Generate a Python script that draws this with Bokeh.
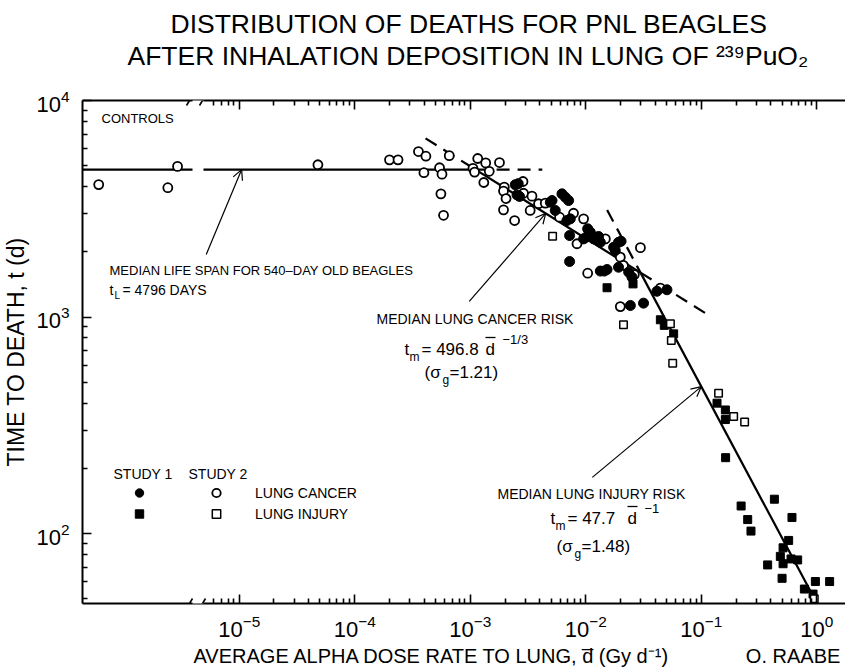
from bokeh.plotting import figure
from bokeh.models import (Range1d, LinearScale, LogAxis, FixedTicker, Label, Arrow,
                          OpenHead, BoxAnnotation, Legend, LegendItem, Title)
from bokeh.embed import file_html
from bokeh.resources import INLINE

FONT = "Liberation Sans"

# ---------------- data ----------------
# control dogs (zero dose) - plotting positions inside the controls panel
ctrl_pos = [0.15, 0.79, 0.88]
ctrl_t = [4090, 3955, 4960]

# Study 2, lung cancer (open circles)
s2_cancer_d = [4.8e-5, 2.0e-4, 2.37e-4, 3.56e-4, 4.13e-4, 3.97e-4, 5.42e-4, 5.69e-4, 5.57e-4,
               5.87e-4, 6.58e-4, 1.16e-3, 1.36e-3, 1.79e-3, 1.055e-3, 1.09e-3, 1.46e-3, 1.31e-3,
               1.97e-3, 1.94e-3, 2.04e-3, 1.94e-3, 2.42e-3, 2.86e-3, 2.89e-3, 3.42e-3, 3.30e-3,
               3.90e-3, 4.46e-3, 5.93e-3, 7.83e-3, 9.57e-3, 8.39e-3, 1.476e-2, 2.97e-2, 1.99e-2,
               2.12e-2, 1.038e-2, 2.63e-2, 4.42e-2, 1.99e-2]
s2_cancer_t = [5050, 5320, 5320, 5810, 5530, 4640, 4890, 4570, 3705, 2950, 5560, 5395, 5150,
               5170, 4860, 4670, 4710, 4180, 3980, 3815, 3525, 3125, 2790, 4225, 3730, 3615,
               3105, 3335, 3355, 2890, 3015, 2840, 2180, 2295, 2090, 1890, 1730, 1593, 1570,
               1360, 1117]

# Study 1, lung cancer (filled circles)
s1_cancer_d = [2.45e-3, 2.6e-3, 2.54e-3, 2.67e-3, 4.93e-3, 5.1e-3, 5.44e-3, 6.22e-3, 6.65e-3,
               7.10e-3, 6.87e-3, 7.34e-3, 7.24e-3, 1.038e-2, 1.094e-2, 9.57e-3, 1.009e-2,
               1.17e-2, 1.29e-2, 1.336e-2, 7.24e-3, 1.742e-2, 1.80e-2, 1.92e-2, 2.02e-2,
               1.92e-2, 1.336e-2, 1.446e-2, 1.527e-2, 2.35e-2, 2.51e-2, 4.13e-2, 5.04e-2,
               3.16e-2, 2.43e-2]
s1_cancer_t = [4080, 4130, 3665, 3605, 3390, 3450, 3105, 3705, 3575, 3450, 2790, 2840, 2378,
               2555, 2465, 2295, 2337, 2295, 2355, 2213, 1804, 2100, 2027, 2213, 2238, 1698,
               1630, 1630, 1657, 1611, 1528, 1315, 1336, 1159, 1130]

# Study 1, lung injury (filled squares)
s1_injury_d = [2.563e-2, 1.527e-2, 4.42e-2, 4.78e-2, 5.76e-2, 0.1367, 0.1615, 0.1615, 0.1623,
               0.221, 0.429, 0.252, 0.269, 0.609, 0.570, 0.510, 0.483, 0.510, 0.598, 0.682,
               0.375, 0.500, 0.780, 0.971, 1.29, 0.927]
s1_injury_t = [1422, 1365, 971, 915, 836, 400, 372, 336, 224, 134, 144, 116, 102.6, 118.6,
               92.9, 85.9, 78.4, 72.5, 76.3, 75.5, 71.6, 62.1, 55.4, 60.0, 60.0, 52.5]

# Study 2, lung injury (open squares)
s2_injury_d = [5.16e-3, 2.12e-2, 5.4e-2, 5.5e-2, 5.65e-2, 0.141, 0.1905, 0.237, 0.95]
s2_injury_t = [2360, 921, 931, 778, 612, 445, 347, 327, 49.9]

# fitted models
LIFE_SPAN = 4796.0          # t_L, days
CANCER_A, CANCER_B = 496.8, -1.0 / 3.0
INJURY_A, INJURY_B = 47.7, -1.0
CANCER_DASH_FROM = 4.1e-4
CANCER_DASH_TO = 0.108
HORIZ_DASH_TO = 4.2e-3
INJURY_DASH_FROM = 0.0153

x_major = [1e-5, 1e-4, 1e-3, 1e-2, 1e-1, 1e0]
y_major = [1e2, 1e3, 1e4]
X_LO, X_HI = 4.4e-7, 1.77
Y_LO, Y_HI = 47.5, 1e4
x_minor = [k * 10.0 ** e for e in range(-6, 1) for k in range(2, 10) if 6e-6 <= k * 10.0 ** e <= X_HI]
y_minor = [k * 10.0 ** e for e in range(1, 4) for k in range(2, 10) if Y_LO <= k * 10.0 ** e <= Y_HI]

TITLE_1 = "DISTRIBUTION OF DEATHS FOR PNL BEAGLES"
TITLE_2 = "AFTER INHALATION DEPOSITION IN LUNG OF \u00b2\u00b3\u2079PuO\u2082"
X_LABEL = "AVERAGE ALPHA DOSE RATE TO LUNG, d\u0305 (Gy d\u207b\u00b9)"
AUTHOR = "O. RAABE"
Y_LABEL = "TIME TO DEATH, t (d)"

# ---------------- figure ----------------
W, H = 845, 672
FL, FT, FB = 82, 100, 603    # frame left / top / bottom in page pixels
FW = W - FL                  # frame width
CTRL_W = 108                 # width of the zero-dose (controls) panel

p = figure(width=W, height=H, x_axis_type="log", y_axis_type="log",
           x_range=Range1d(X_LO, X_HI), y_range=Range1d(Y_LO, Y_HI),
           output_backend="svg", toolbar_location=None, title_location=None,
           min_border_left=FL, min_border_right=0, min_border_top=FT,
           min_border_bottom=H - FB)
p.extra_x_ranges = {"ctrl": Range1d(0, FW / CTRL_W)}
p.extra_x_scales = {"ctrl": LinearScale()}
p.grid.visible = False
p.outline_line_color = None
p.background_fill_color = "white"
p.border_fill_color = "white"

def style_axis(ax):
    ax.major_tick_in = 9
    ax.major_tick_out = 0
    ax.minor_tick_in = 5
    ax.minor_tick_out = 0
    ax.axis_line_width = 2
    ax.major_tick_line_width = 1.6
    ax.minor_tick_line_width = 1.6
    ax.axis_line_color = "black"
    ax.major_tick_line_color = "black"
    ax.minor_tick_line_color = "black"
    ax.major_label_text_font = FONT
    ax.major_label_text_color = "black"

xa = p.xaxis[0]
xa.ticker = FixedTicker(ticks=x_major, minor_ticks=x_minor)
style_axis(xa)
xa.major_label_text_font_size = "22px"
xa.major_label_standoff = 11

ya = p.yaxis[0]
ya.ticker = FixedTicker(ticks=y_major, minor_ticks=y_minor)
style_axis(ya)
ya.major_label_text_font_size = "22px"
ya.major_label_standoff = 13
ya.axis_label = Y_LABEL
ya.axis_label_text_font = FONT
ya.axis_label_text_font_style = "normal"
ya.axis_label_text_font_size = "23px"
ya.axis_label_text_color = "black"
ya.axis_label_standoff = 4

top = LogAxis(ticker=FixedTicker(ticks=x_major, minor_ticks=x_minor))
style_axis(top)
top.major_label_text_color = None
top.major_label_text_font_size = "1px"
top.major_label_standoff = 0
p.add_layout(top, "above")

# blank spacer panel between the top axis and the title lines
p.add_layout(Title(text="\u00a0", text_font=FONT, text_font_size="10px", text_color="white",
                   standoff=17), "above")
p.add_layout(Title(text=TITLE_2, align="left", offset=45, text_font=FONT, text_font_size="26.5px",
                   text_font_style="normal", text_color="black", standoff=0), "above")
p.add_layout(Title(text=TITLE_1, align="left", offset=88, text_font=FONT, text_font_size="26.5px",
                   text_font_style="normal", text_color="black", standoff=0), "above")
p.add_layout(Title(text=X_LABEL + "\u00a0" * 14 + AUTHOR, align="left", offset=111,
                   text_font=FONT, text_font_size="20px", text_font_style="normal",
                   text_color="black", standoff=6), "below")

# ---------------- model lines ----------------
def cancer(d):
    return CANCER_A * d ** CANCER_B

def injury(d):
    return INJURY_A * d ** INJURY_B

d_c = (CANCER_A / LIFE_SPAN) ** (1.0 / -CANCER_B)              # life span meets cancer line
d_ci = (INJURY_A / CANCER_A) ** (1.0 / (CANCER_B - INJURY_B))  # cancer meets injury line
d_end = (INJURY_A / Y_LO) ** (1.0 / -INJURY_B)

LW = 2.2
DASH = "13 8"
p.line([X_LO, d_c], [LIFE_SPAN, LIFE_SPAN], line_color="black", line_width=LW)
p.line([d_c, HORIZ_DASH_TO], [LIFE_SPAN, LIFE_SPAN], line_color="black", line_width=LW, line_dash=DASH)
p.line([CANCER_DASH_FROM, d_c], [cancer(CANCER_DASH_FROM), cancer(d_c)], line_color="black", line_width=LW, line_dash=DASH)
p.line([d_c, d_ci], [cancer(d_c), cancer(d_ci)], line_color="black", line_width=LW)
p.line([d_ci, CANCER_DASH_TO], [cancer(d_ci), cancer(CANCER_DASH_TO)], line_color="black", line_width=LW, line_dash=DASH)
p.line([INJURY_DASH_FROM, d_ci], [injury(INJURY_DASH_FROM), injury(d_ci)], line_color="black", line_width=LW, line_dash=DASH)
p.line([d_ci, d_end], [injury(d_ci), injury(d_end)], line_color="black", line_width=LW)

# ---------------- points ----------------
r_ctrl = p.scatter(ctrl_pos, ctrl_t, x_range_name="ctrl", marker="circle", size=9,
                   fill_color="white", line_color="black", line_width=1.8)
r2c = p.scatter(s2_cancer_d, s2_cancer_t, marker="circle", size=9,
                fill_color="white", line_color="black", line_width=1.8)
r1c = p.scatter(s1_cancer_d, s1_cancer_t, marker="circle", size=10,
                fill_color="black", line_color="black")
r1i = p.scatter(s1_injury_d, s1_injury_t, marker="square", size=8,
                fill_color="black", line_color="black")
r2i = p.scatter(s2_injury_d, s2_injury_t, marker="square", size=7.5,
                fill_color="white", line_color="black", line_width=1.5)

# ---------------- axis break ----------------
for y0, y1 in [(-6, 6), (428, 440), (497, 509)]:
    p.add_layout(BoxAnnotation(left=110, right=121, bottom=y0, top=y1,
                               left_units="screen", right_units="screen",
                               bottom_units="screen", top_units="screen",
                               fill_color="white", fill_alpha=1.0, line_color=None,
                               level="overlay"))

def seg(x0, y0, x1, y1, w=1.6):
    p.add_layout(Arrow(x_start=x0 - FL, y_start=FB - y0, x_end=x1 - FL, y_end=FB - y1,
                       start_units="screen", end_units="screen", start=None, end=None,
                       line_color="black", line_width=w, level="overlay"))

for yc in (FT, FB):
    for xc in (189, 202):
        seg(xc - 3, yc + 5, xc + 3, yc - 5)

# ---------------- texts inside the frame ----------------
def lab(text, px, py, size, align="left", baseline="middle"):
    p.add_layout(Label(x=px - FL, y=FB - py, x_units="screen", y_units="screen", text=text,
                       text_font=FONT, text_font_size=f"{size}px", text_color="black",
                       text_align=align, text_baseline=baseline))

lab("CONTROLS", 101, 118, 13)

lab("MEDIAN LIFE SPAN FOR 540\u2013DAY OLD BEAGLES", 109, 270, 13)
lab("t", 109, 289, 14)
lab("L", 114, 295, 10)
lab("= 4796 DAYS", 122, 289, 14)

lab("MEDIAN LUNG CANCER RISK", 376, 318, 14)
lab("t", 404, 349, 17)
lab("m", 409, 356, 12)
lab("= 496.8", 421, 349, 17)
lab("d", 485, 349, 17)
seg(485, 337, 495, 337, 1.3)
lab("\u22121/3", 502, 339, 13)
lab("(\u03c3", 424, 372, 17)
lab("g", 442, 379, 12)
lab("=1.21)", 449, 372, 17)

lab("MEDIAN LUNG INJURY RISK", 497, 493, 14)
lab("t", 550, 518, 17)
lab("m", 555, 525, 12)
lab("= 47.7", 567, 518, 17)
lab("d", 627, 518, 17)
seg(627, 506, 637, 506, 1.3)
lab("\u22121", 644, 508, 13)
lab("(\u03c3", 556, 546, 17)
lab("g", 574, 553, 12)
lab("=1.48)", 581, 546, 17)

lab("STUDY 1", 113, 473, 14)
lab("STUDY 2", 188, 473, 14)

# arrows (tails at text, heads on the model lines)
head = dict(size=10, line_width=1.2, line_color="black")
p.add_layout(Arrow(x_start=5.18e-6, y_start=1946, x_end=1.05e-5, y_end=LIFE_SPAN,
                   end=OpenHead(**head), line_width=1.2, line_color="black"))
p.add_layout(Arrow(x_start=9.8e-4, y_start=1180, x_end=4.5e-3, y_end=cancer(4.5e-3),
                   end=OpenHead(**head), line_width=1.2, line_color="black"))
p.add_layout(Arrow(x_start=0.01138, y_start=181.6, x_end=0.1, y_end=injury(0.1),
                   end=OpenHead(**head), line_width=1.2, line_color="black"))

# legend
leg_common = dict(border_line_color=None, background_fill_alpha=0, padding=0, margin=0,
                  spacing=0, glyph_width=24, glyph_height=21, label_height=16,
                  label_text_font=FONT, label_text_font_size="14px", label_text_color="black")
leg1 = Legend(items=[LegendItem(label=" ", renderers=[r1c]), LegendItem(label=" ", renderers=[r1i])],
              location=(45, 79), label_standoff=0, **leg_common)
leg2 = Legend(items=[LegendItem(label="LUNG CANCER", renderers=[r2c]),
                     LegendItem(label="LUNG INJURY", renderers=[r2i])],
              location=(122, 79), label_standoff=27, **leg_common)
p.add_layout(leg1)
p.add_layout(leg2)

open("out.html", "w").write(file_html(p, INLINE))
